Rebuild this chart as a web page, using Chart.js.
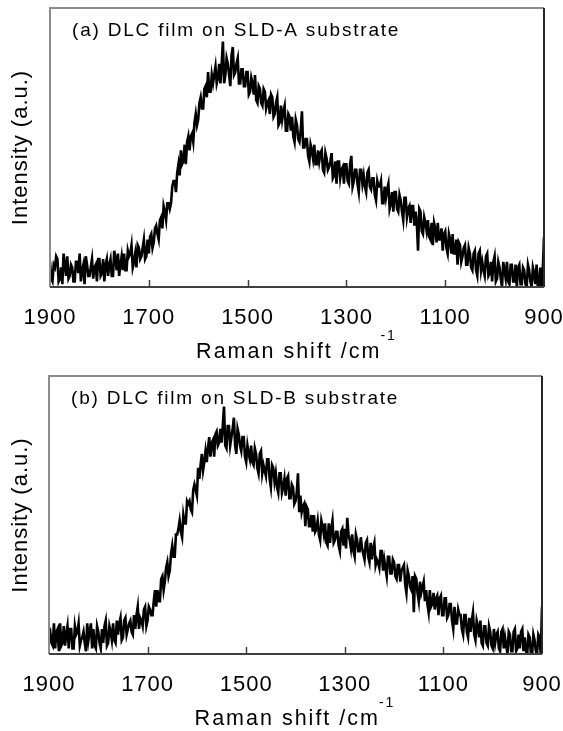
<!DOCTYPE html>
<html>
<head>
<meta charset="utf-8">
<script src="https://cdn.jsdelivr.net/npm/chart.js@4.4.0/dist/chart.umd.min.js"></script>
<style>
  html, body { margin: 0; padding: 0; background: #fff; }
  #wrap { position: relative; width: 563px; height: 731px; }
  canvas { position: absolute; left: 0; }
  #chart-a { top: 0; }
  #chart-b { top: 365px; }
</style>
</head>
<body>
<div id="wrap">
  <canvas id="chart-a" width="563" height="365"></canvas>
  <canvas id="chart-b" width="563" height="366"></canvas>
</div>
<script>
// Raman shift (cm-1), one value every 2.5 cm-1
var shift = [
  1900,1897.5,1895,1892.5,1890,1887.5,1885,1882.5,1880,1877.5,1875,1872.5,1870,1867.5,1865,1862.5,1860,1857.5,1855,1852.5,
  1850,1847.5,1845,1842.5,1840,1837.5,1835,1832.5,1830,1827.5,1825,1822.5,1820,1817.5,1815,1812.5,1810,1807.5,1805,1802.5,
  1800,1797.5,1795,1792.5,1790,1787.5,1785,1782.5,1780,1777.5,1775,1772.5,1770,1767.5,1765,1762.5,1760,1757.5,1755,1752.5,
  1750,1747.5,1745,1742.5,1740,1737.5,1735,1732.5,1730,1727.5,1725,1722.5,1720,1717.5,1715,1712.5,1710,1707.5,1705,1702.5,
  1700,1697.5,1695,1692.5,1690,1687.5,1685,1682.5,1680,1677.5,1675,1672.5,1670,1667.5,1665,1662.5,1660,1657.5,1655,1652.5,
  1650,1647.5,1645,1642.5,1640,1637.5,1635,1632.5,1630,1627.5,1625,1622.5,1620,1617.5,1615,1612.5,1610,1607.5,1605,1602.5,
  1600,1597.5,1595,1592.5,1590,1587.5,1585,1582.5,1580,1577.5,1575,1572.5,1570,1567.5,1565,1562.5,1560,1557.5,1555,1552.5,
  1550,1547.5,1545,1542.5,1540,1537.5,1535,1532.5,1530,1527.5,1525,1522.5,1520,1517.5,1515,1512.5,1510,1507.5,1505,1502.5,
  1500,1497.5,1495,1492.5,1490,1487.5,1485,1482.5,1480,1477.5,1475,1472.5,1470,1467.5,1465,1462.5,1460,1457.5,1455,1452.5,
  1450,1447.5,1445,1442.5,1440,1437.5,1435,1432.5,1430,1427.5,1425,1422.5,1420,1417.5,1415,1412.5,1410,1407.5,1405,1402.5,
  1400,1397.5,1395,1392.5,1390,1387.5,1385,1382.5,1380,1377.5,1375,1372.5,1370,1367.5,1365,1362.5,1360,1357.5,1355,1352.5,
  1350,1347.5,1345,1342.5,1340,1337.5,1335,1332.5,1330,1327.5,1325,1322.5,1320,1317.5,1315,1312.5,1310,1307.5,1305,1302.5,
  1300,1297.5,1295,1292.5,1290,1287.5,1285,1282.5,1280,1277.5,1275,1272.5,1270,1267.5,1265,1262.5,1260,1257.5,1255,1252.5,
  1250,1247.5,1245,1242.5,1240,1237.5,1235,1232.5,1230,1227.5,1225,1222.5,1220,1217.5,1215,1212.5,1210,1207.5,1205,1202.5,
  1200,1197.5,1195,1192.5,1190,1187.5,1185,1182.5,1180,1177.5,1175,1172.5,1170,1167.5,1165,1162.5,1160,1157.5,1155,1152.5,
  1150,1147.5,1145,1142.5,1140,1137.5,1135,1132.5,1130,1127.5,1125,1122.5,1120,1117.5,1115,1112.5,1110,1107.5,1105,1102.5,
  1100,1097.5,1095,1092.5,1090,1087.5,1085,1082.5,1080,1077.5,1075,1072.5,1070,1067.5,1065,1062.5,1060,1057.5,1055,1052.5,
  1050,1047.5,1045,1042.5,1040,1037.5,1035,1032.5,1030,1027.5,1025,1022.5,1020,1017.5,1015,1012.5,1010,1007.5,1005,1002.5,
  1000,997.5,995,992.5,990,987.5,985,982.5,980,977.5,975,972.5,970,967.5,965,962.5,960,957.5,955,952.5,
  950,947.5,945,942.5,940,937.5,935,932.5,930,927.5,925,922.5,920,917.5,915,912.5,910,907.5,905,902.5,
  900
];

// (a) SLD-A substrate, intensity in a.u. (0 = axis, 100 = top of box)
var intensityA = [
  9,3,2,8,7,11,10,2,3,7,1,12,8,4,11,3,4,8,7,2,
  2,9,9,5,12,2,6,8,1,11,8,4,4,7,10,3,7,8,2,10,
  10,4,5,10,2,8,10,4,8,10,4,4,13,10,6,12,4,8,11,6,
  12,6,6,13,11,12,15,7,9,12,7,15,14,10,11,14,17,10,11,17,
  12,18,19,14,16,21,22,19,17,24,25,21,29,27,24,30,30,28,30,36,
  38,38,34,41,44,40,49,44,45,51,44,52,54,49,54,55,52,59,62,58,
  60,66,68,64,64,71,72,68,77,70,70,76,73,76,79,73,75,80,73,80,
  88,73,76,82,80,76,72,83,86,76,77,80,82,73,73,78,78,72,72,77,
  77,69,70,75,73,69,76,67,66,72,71,66,65,71,70,64,66,67,62,69,
  68,61,62,66,68,58,59,65,60,63,65,56,56,62,61,56,61,54,52,60,
  58,53,52,56,63,50,50,53,53,47,45,51,49,46,51,44,44,49,45,48,
  49,42,41,48,46,42,43,45,48,39,40,45,37,45,45,39,42,43,37,44,
  44,38,37,44,47,36,38,42,42,37,34,42,42,37,40,36,34,41,42,36,
  35,39,39,33,31,38,36,36,38,30,30,36,32,35,37,28,30,34,27,34,
  34,28,27,33,31,27,24,32,32,25,28,29,23,29,29,22,27,23,13,28,
  27,20,19,25,23,20,24,18,17,23,15,23,21,16,23,17,17,21,13,19,
  20,14,12,19,17,12,19,12,12,17,8,16,15,9,11,14,15,8,8,14,
  12,7,6,12,13,6,4,12,13,6,9,6,4,11,12,4,5,9,2,9,
  11,2,3,9,7,3,0,9,6,3,9,2,1,8,8,2,2,8,0,7,
  8,1,1,7,6,1,0,8,6,2,0,7,5,1,8,0,0,7,0,6,
  18
];

// (b) SLD-B substrate
var intensityB = [
  7,8,4,3,11,2,8,9,1,11,3,4,10,3,7,10,2,9,9,2,
  2,10,7,8,11,3,5,6,8,4,1,11,5,8,11,2,9,3,2,10,
  8,4,2,9,4,10,12,3,4,10,8,5,11,5,4,12,7,11,13,5,
  6,12,13,7,9,11,12,8,7,14,9,14,17,9,13,12,10,16,17,10,
  12,17,16,14,14,19,23,17,23,19,19,27,28,23,26,31,33,28,30,36,
  39,35,35,43,43,45,48,44,42,50,47,47,55,54,55,52,51,59,61,59,
  57,67,63,68,72,66,69,73,69,74,78,71,76,77,71,79,80,75,76,81,
  76,82,89,75,74,82,82,75,78,81,85,75,72,81,79,75,73,78,78,71,
  69,75,72,70,75,69,68,74,72,67,65,72,73,65,68,66,64,70,70,63,
  60,68,67,62,65,60,58,65,65,58,60,63,57,63,64,56,56,61,60,54,
  55,58,65,51,57,51,53,54,46,53,52,46,46,50,44,50,44,45,48,43,
  41,48,46,43,47,40,39,47,40,45,48,40,41,44,44,39,37,44,45,39,
  45,38,49,43,41,38,43,37,35,43,41,37,37,42,38,36,34,40,41,35,
  33,40,34,38,40,32,34,33,31,37,37,30,34,31,28,35,35,29,29,34,
  33,28,27,32,32,26,30,31,32,25,22,30,28,24,23,28,15,28,27,22,
  19,26,22,24,26,19,23,18,15,23,17,18,22,16,20,21,14,20,21,14,
  14,20,20,13,14,18,18,12,9,17,11,11,16,14,14,9,7,14,14,8,
  6,13,8,12,15,7,5,12,10,6,12,4,3,10,10,4,3,10,8,3,
  2,9,4,7,8,2,1,8,9,2,6,3,0,8,7,1,1,8,9,1,
  2,7,2,8,9,1,6,1,0,7,6,0,0,7,5,1,0,7,6,0,
  17
];

var xTicks = [1900, 1700, 1500, 1300, 1100, 900];
var FONT = '"Liberation Sans", Arial, sans-serif';

// box, inward ticks, panel label and x title (with superscript)
var framePlugin = {
  id: 'frame',
  beforeDraw: function(chart) {
    chart.ctx.letterSpacing = '1px';
  },
  afterDraw: function(chart) {
    var ctx = chart.ctx, a = chart.chartArea, xs = chart.scales.x;
    var opt = chart.options.plugins.frame;
    ctx.save();
    ctx.lineWidth = 2;
    ctx.strokeStyle = '#8c8c8c';
    ctx.beginPath();
    ctx.moveTo(a.left, a.bottom); ctx.lineTo(a.left, a.top); ctx.lineTo(a.right, a.top);
    ctx.stroke();
    ctx.strokeStyle = '#262626';
    ctx.beginPath(); ctx.moveTo(a.right, a.top); ctx.lineTo(a.right, a.bottom); ctx.stroke();
    ctx.strokeStyle = '#404040';
    ctx.beginPath(); ctx.moveTo(a.left, a.bottom); ctx.lineTo(a.right, a.bottom); ctx.stroke();

    ctx.lineWidth = 1.5;
    xs.ticks.forEach(function(t) {
      if (t.value === xs.min || t.value === xs.max) return;
      var px = Math.round(xs.getPixelForValue(t.value)) + 0.5;
      ctx.beginPath(); ctx.moveTo(px, a.bottom); ctx.lineTo(px, a.bottom - 7); ctx.stroke();
    });

    ctx.fillStyle = '#000';
    ctx.textAlign = 'left';
    ctx.textBaseline = 'alphabetic';
    ctx.letterSpacing = '1.8px';
    ctx.font = '19px ' + FONT;
    ctx.fillText(opt.label, a.left + 22, a.top + 28);

    ctx.letterSpacing = '2px';
    var main = 'Raman shift /cm', sup = '-1';
    ctx.font = '21.5px ' + FONT;
    var wMain = ctx.measureText(main).width;
    ctx.font = '14px ' + FONT;
    var wSup = ctx.measureText(sup).width;
    var x0 = (a.left + a.right) / 2 - (wMain + wSup) / 2;
    ctx.font = '21.5px ' + FONT;
    ctx.fillText(main, x0, a.bottom + 71);
    ctx.font = '14px ' + FONT;
    ctx.fillText(sup, x0 + wMain - 1, a.bottom + 53);
    ctx.restore();
  }
};

function drawSpectrum(id, values, label, box) {
  var points = shift.map(function(s, i) { return { x: s, y: values[i] }; });
  return new Chart(document.getElementById(id), {
    type: 'line',
    data: {
      datasets: [{
        data: points,
        borderColor: '#000',
        borderWidth: 2.6,
        pointRadius: 0,
        tension: 0,
        fill: false
      }]
    },
    options: {
      responsive: false,
      animation: false,
      events: [],
      layout: { padding: { top: box.top, right: box.right, left: 0, bottom: 0 } },
      plugins: {
        legend: { display: false },
        tooltip: { enabled: false },
        frame: { label: label }
      },
      scales: {
        x: {
          type: 'linear',
          reverse: true,
          min: 900,
          max: 1900,
          afterBuildTicks: function(s) {
            s.ticks = xTicks.map(function(v) { return { value: v }; });
          },
          afterFit: function(s) { s.height = box.xh; s.paddingLeft = 0; s.paddingRight = 0; },
          border: { display: false },
          grid: { display: false, drawTicks: false },
          ticks: {
            autoSkip: false,
            maxRotation: 0,
            padding: 18,
            color: '#000',
            font: { family: FONT, size: 22 },
            callback: function(v) { return String(v); }
          }
        },
        y: {
          min: 0,
          max: 100,
          afterFit: function(s) { s.width = box.yw; s.paddingTop = 0; s.paddingBottom = 0; },
          border: { display: false },
          grid: { display: false },
          ticks: { display: false },
          title: {
            display: true,
            text: 'Intensity (a.u.)',
            color: '#000',
            font: { family: FONT, size: 22, lineHeight: 1 },
            padding: { top: 10, bottom: 0 }
          }
        }
      }
    },
    plugins: [framePlugin]
  });
}

drawSpectrum('chart-a', intensityA, '(a) DLC film on SLD-A substrate', { top: 8, right: 19, yw: 50, xh: 78 });
drawSpectrum('chart-b', intensityB, '(b) DLC film on SLD-B substrate', { top: 11, right: 21, yw: 49, xh: 77 });
</script>
</body>
</html>
